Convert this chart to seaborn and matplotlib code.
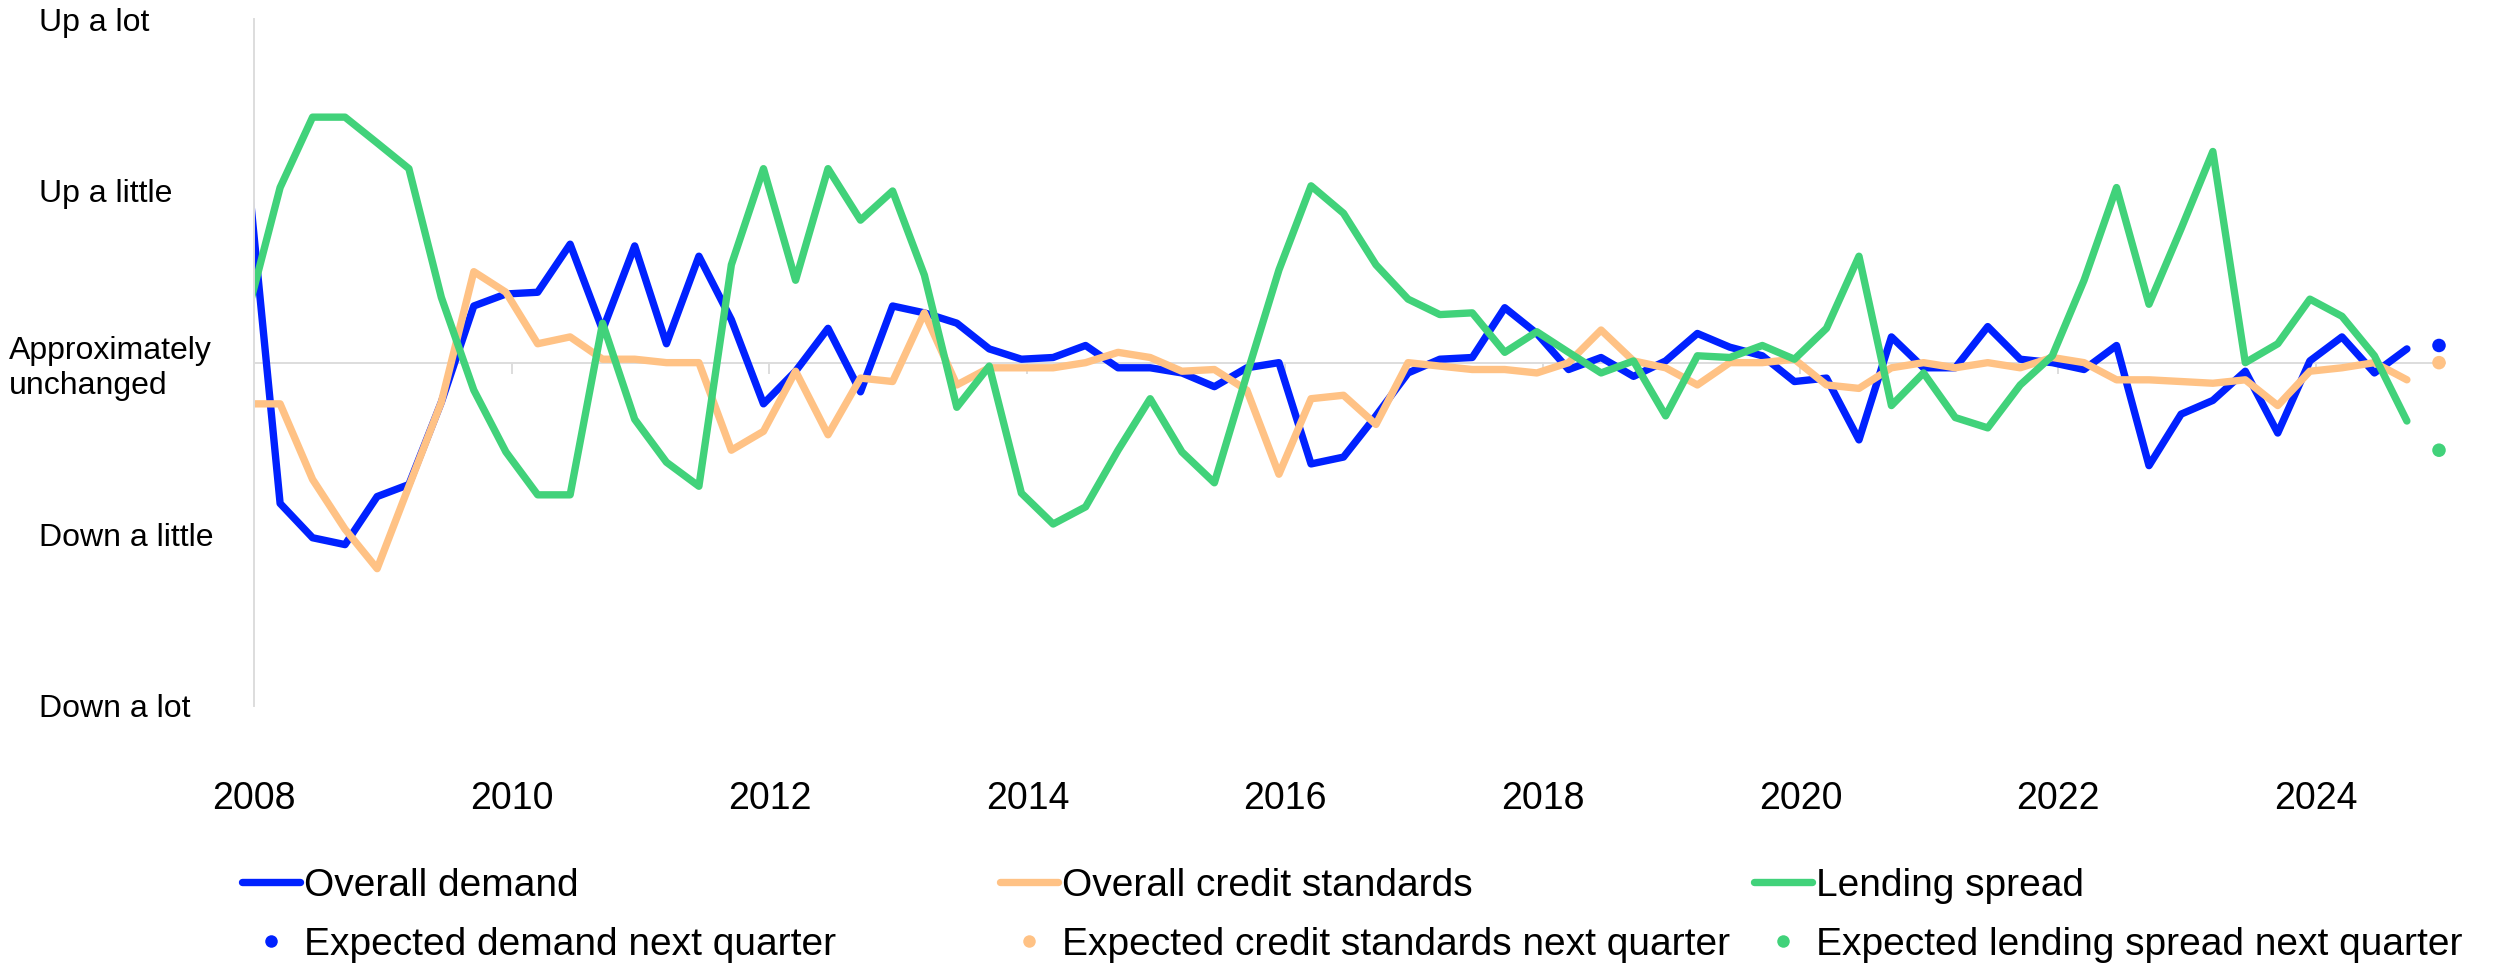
import pandas as pd
import matplotlib.pyplot as plt
import matplotlib.dates as mdates
from matplotlib.lines import Line2D
import seaborn as sns

# quarterly survey balances, 2008Q1 - 2024Q3 (scale: -2 down a lot ... 2 up a lot)
demand = [1.10, -0.82, -1.02, -1.06, -0.78, -0.71, -0.23, 0.33, 0.40, 0.41,
          0.69, 0.19, 0.68, 0.11, 0.62, 0.25, -0.24, -0.05, 0.20, -0.17,
          0.33, 0.29, 0.23, 0.08, 0.02, 0.03, 0.10, -0.03, -0.03, -0.06,
          -0.14, -0.03, 0.00, -0.59, -0.55, -0.31, -0.06, 0.02, 0.03, 0.32,
          0.17, -0.04, 0.03, -0.08, 0.01, 0.17, 0.09, 0.04, -0.11, -0.09,
          -0.45, 0.15, -0.03, -0.03, 0.21, 0.02, 0.00, -0.04, 0.10, -0.60,
          -0.30, -0.22, -0.05, -0.41, 0.01, 0.15, -0.06, 0.08]
credit = [-0.24, -0.24, -0.68, -0.97, -1.20, -0.72, -0.23, 0.53, 0.41, 0.11,
          0.15, 0.02, 0.02, 0.00, 0.00, -0.51, -0.40, -0.05, -0.42, -0.09,
          -0.11, 0.29, -0.13, -0.03, -0.03, -0.03, 0.00, 0.06, 0.03, -0.05,
          -0.04, -0.16, -0.65, -0.21, -0.19, -0.36, 0.00, -0.02, -0.04, -0.04,
          -0.06, 0.00, 0.19, 0.01, -0.03, -0.13, 0.00, 0.00, 0.02, -0.13,
          -0.15, -0.03, 0.00, -0.03, 0.00, -0.03, 0.03, 0.00, -0.10, -0.10,
          -0.11, -0.12, -0.10, -0.25, -0.05, -0.03, 0.00, -0.10]
spread = [0.30, 1.02, 1.43, 1.43, 1.28, 1.13, 0.38, -0.16, -0.52, -0.77,
          -0.77, 0.23, -0.33, -0.58, -0.72, 0.57, 1.13, 0.48, 1.13, 0.83,
          1.00, 0.51, -0.26, -0.02, -0.76, -0.94, -0.84, -0.51, -0.21, -0.52,
          -0.70, -0.07, 0.54, 1.03, 0.87, 0.57, 0.37, 0.28, 0.29, 0.06,
          0.18, 0.06, -0.06, 0.01, -0.31, 0.04, 0.03, 0.10, 0.02, 0.20,
          0.62, -0.25, -0.06, -0.32, -0.38, -0.13, 0.04, 0.48, 1.02, 0.34,
          0.78, 1.23, 0.00, 0.11, 0.37, 0.27, 0.04, -0.34]
expected = [0.10, 0.00, -0.51]

series_names = ['Overall demand', 'Overall credit standards', 'Lending spread']
expected_names = ['Expected demand next quarter',
                  'Expected credit standards next quarter',
                  'Expected lending spread next quarter']
colors = ['#0021FF', '#FFC285', '#41D27A']
y_levels = [-2, -1, 0, 1, 2]
y_labels = ['Down a lot', 'Down a little', 'Approximately\nunchanged',
            'Up a little', 'Up a lot']

dates = pd.date_range('2007-12-15', periods=len(demand) + 1,
                      freq=pd.DateOffset(months=3))

df = pd.concat([pd.DataFrame({'date': dates[:len(vals)], 'value': vals, 'series': name})
                for name, vals in zip(series_names, [demand, credit, spread])])
exp_df = pd.DataFrame({'date': [dates[-1]] * 3, 'value': expected,
                       'series': series_names})

sns.set_theme(style='white')
plt.rcParams['font.family'] = ['Liberation Sans', 'DejaVu Sans']
grey = '#dddddd'

fig, ax = plt.subplots(figsize=(25, 9.65), dpi=100)
fig.subplots_adjust(left=0.1016, right=0.978, top=0.980, bottom=0.2684)

sns.lineplot(data=df, x='date', y='value', hue='series', hue_order=series_names,
             palette=colors, linewidth=5.3, legend=False, ax=ax,
             solid_capstyle='round', solid_joinstyle='round')
sns.scatterplot(data=exp_df, x='date', y='value', hue='series',
                hue_order=series_names, palette=colors, s=95, linewidth=0,
                legend=False, ax=ax, clip_on=False, zorder=3)

ax.set_xlim(pd.Timestamp('2008-01-01'), pd.Timestamp('2025-01-01'))
ax.set_ylim(-2, 2)
ax.set_xlabel('')
ax.set_ylabel('')

ax.xaxis.set_major_locator(mdates.YearLocator(2))
ax.xaxis.set_major_formatter(mdates.DateFormatter('%Y'))
ax.tick_params(axis='x', length=0, pad=54, labelsize=27, labelcolor='black')

ax.set_yticks(y_levels, y_labels)
ax.tick_params(axis='y', direction='in', length=8, width=1.4, color=grey,
               pad=155, labelsize=23, labelcolor='black')
for lab in ax.get_yticklabels():
    lab.set_horizontalalignment('left')
    if 'unchanged' in lab.get_text():
        lab.set_x(-0.0137)

sns.despine(ax=ax, bottom=True)
ax.spines['left'].set_color(grey)
ax.spines['left'].set_linewidth(1.4)

# zero line with year ticks
sec = ax.secondary_xaxis(0.5)
sec.xaxis.set_major_locator(mdates.YearLocator(2))
sec.tick_params(axis='x', which='both', direction='in', length=8, width=1.4,
                color=grey, labelbottom=False, labeltop=False)
for sp in sec.spines.values():
    sp.set_color(grey)
    sp.set_linewidth(1.4)

leg_x = [0.0968, 0.400, 0.7016]
for x0, name, ename, c in zip(leg_x, series_names, expected_names, colors):
    handles = [Line2D([], [], color=c, lw=5.3, solid_capstyle='round'),
               Line2D([], [], color=c, marker='o', ms=9, ls='', mew=0)]
    fig.legend(handles, [name, ename], loc='upper left', bbox_to_anchor=(x0, 0.101),
               frameon=False, fontsize=28, labelcolor='black',
               handlelength=1.5, handletextpad=0.1, labelspacing=0.6,
               borderpad=0, borderaxespad=0)

plt.savefig('out.png', dpi=100)
